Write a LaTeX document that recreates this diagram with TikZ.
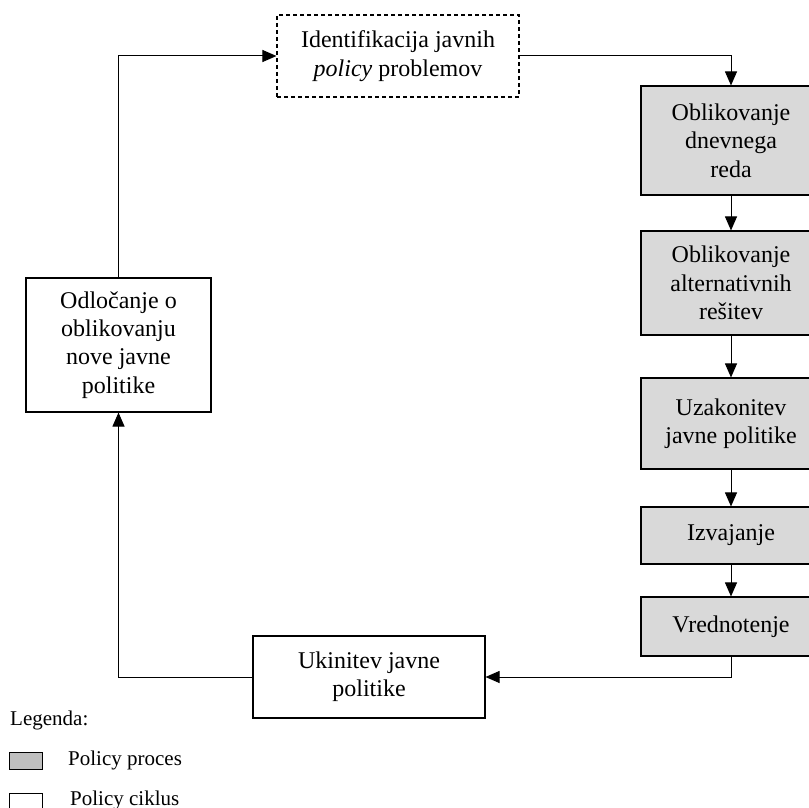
\documentclass[tikz,border=0pt]{standalone}
\usepackage{fontspec}
\setmainfont{Liberation Serif}
\usetikzlibrary{arrows.meta}
\definecolor{procgray}{RGB}{217,217,217}
\definecolor{leggray}{RGB}{191,191,191}
\newcommand\mainfs{\fontsize{24}{28.3}\selectfont}
\newcommand\legfs{\fontsize{21}{25}\selectfont}
\begin{document}
\begin{tikzpicture}[x=1pt,y=-1pt,
  boxbase/.style={draw=black, line width=1.1pt, inner sep=0pt, align=center, font=\mainfs},
  procbox/.style={boxbase, fill=procgray, minimum width=180pt},
  cyclebox/.style={boxbase, fill=white},
  conn/.style={line width=1pt, -{Triangle[length=14pt,width=12pt]}},
  legtext/.style={anchor=base west, inner sep=0pt, font=\legfs},
  legbox/.style={draw=black, line width=1.1pt, inner sep=0pt, anchor=north west, minimum width=33pt}
]
\useasboundingbox (0,0) rectangle (809,808);

% cycle boxes
\node[cyclebox, dashed, dash pattern=on 4pt off 3pt, minimum width=242pt, minimum height=82pt] (ident) at (398,56)
  {Identifikacija javnih\\\textit{policy} problemov};
\node[cyclebox, minimum width=185pt, minimum height=134pt] (odl) at (118.5,345)
  {Odločanje o\\oblikovanju\\nove javne\\politike};
\node[cyclebox, minimum width=232pt, minimum height=82pt] (ukin) at (369,677)
  {Ukinitev javne\\politike};

% process boxes
\node[procbox, minimum height=109pt] (b1) at (731,140.5) {Oblikovanje\\dnevnega\\reda};
\node[procbox, minimum height=104pt] (b2) at (731,283) {Oblikovanje\\alternativnih\\rešitev};
\node[procbox, minimum height=91pt] (b3) at (731,423.5) {Uzakonitev\\javne politike};
\node[procbox, minimum height=57pt] (b4) at (731,535.5) {Izvajanje};
\node[procbox, minimum height=59pt] (b5) at (731,626.5) {Vrednotenje};

% connectors
\draw[conn] (odl.north) |- (ident.west);
\draw[conn] (ident.east) -| (b1.north);
\draw[conn] (b1.south) -- (b2.north);
\draw[conn] (b2.south) -- (b3.north);
\draw[conn] (b3.south) -- (b4.north);
\draw[conn] (b4.south) -- (b5.north);
\draw[conn] (b5.south) |- (ukin.east);
\draw[conn] (ukin.west) -| (odl.south);

% legend
\node[legtext] (leg) at (10,725) {Legenda:};
\node[legbox, fill=leggray, minimum height=17pt] (lgp) at (9,752) {};
\node[legtext] (lp) at (68,765) {Policy proces};
\node[legbox, fill=white, minimum height=27pt] (lgc) at (9,793) {};
\node[legtext] (lc) at (70,805) {Policy ciklus};
\end{tikzpicture}
\end{document}
